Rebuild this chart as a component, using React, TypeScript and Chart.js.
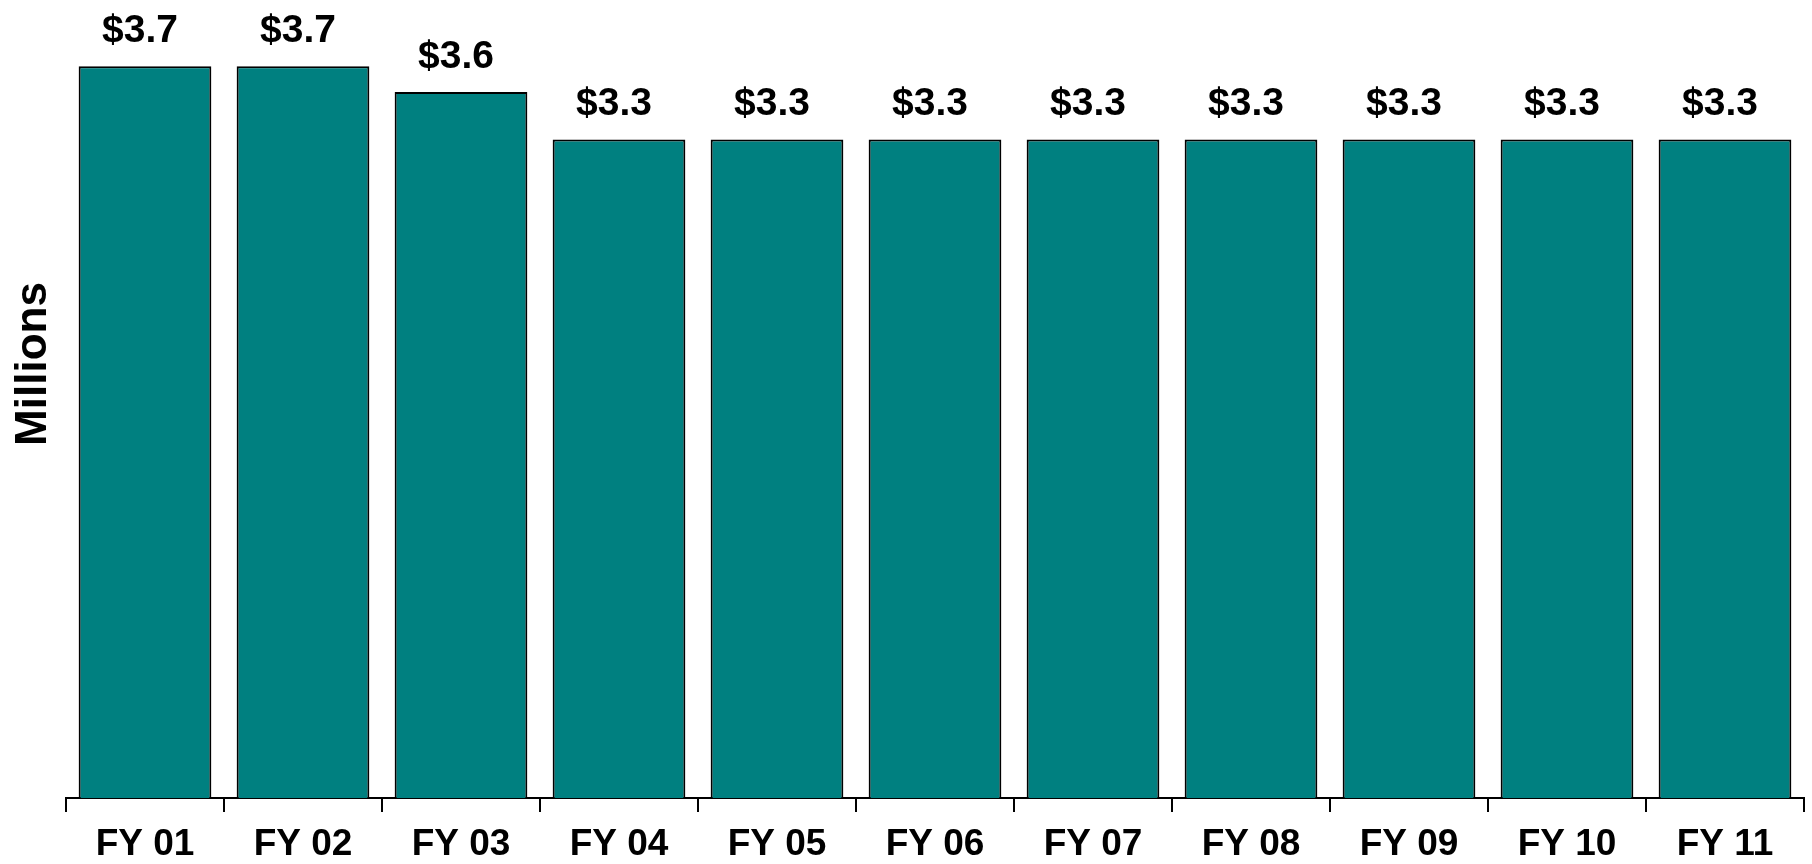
import React, { useEffect, useRef } from "react";
import { Chart, registerables } from "chart.js";

Chart.register(...registerables);

const categories = ["FY 01", "FY 02", "FY 03", "FY 04", "FY 05", "FY 06", "FY 07", "FY 08", "FY 09", "FY 10", "FY 11"];
const fundingMillions = [3.7, 3.7, 3.57, 3.33, 3.33, 3.33, 3.33, 3.33, 3.33, 3.33, 3.33];
const yAxisTitle = "Millions";

const FONT = "Arial, 'Liberation Sans', Helvetica, sans-serif";

const valueLabelPlugin = {
  id: "valueLabels",
  afterDatasetsDraw(chart: any) {
    const ctx = chart.ctx;
    const meta = chart.getDatasetMeta(0);
    ctx.save();
    ctx.fillStyle = "#000";
    ctx.font = `bold 39px ${FONT}`;
    ctx.textAlign = "center";
    ctx.textBaseline = "alphabetic";
    meta.data.forEach((bar: any, i: number) => {
      const v = chart.data.datasets[0].data[i] as number;
      ctx.fillText("$" + v.toFixed(1), bar.x - 5, bar.y - 24);
    });
    ctx.restore();
  },
};

const axisTitlePlugin = {
  id: "axisTitle",
  afterDraw(chart: any) {
    const ctx = chart.ctx;
    ctx.save();
    ctx.translate(34, 364);
    ctx.rotate(-Math.PI / 2);
    ctx.fillStyle = "#000";
    ctx.font = `bold 44px ${FONT}`;
    ctx.textAlign = "center";
    ctx.textBaseline = "middle";
    ctx.fillText(yAxisTitle, 0, 0);
    ctx.restore();
  },
};

export default function App() {
  const ref = useRef<HTMLCanvasElement | null>(null);
  useEffect(() => {
    if (!ref.current) return;
    const chart = new Chart(ref.current, {
      type: "bar",
      data: {
        labels: categories,
        datasets: [
          {
            data: fundingMillions,
            backgroundColor: "#008080",
            borderColor: "#000000",
            borderWidth: 2,
            categoryPercentage: 1,
            barPercentage: 0.84,
          },
        ],
      },
      options: {
        animation: false,
        responsive: false,
        layout: { padding: { left: 66, right: 8, top: 7, bottom: 0 } },
        plugins: { legend: { display: false }, tooltip: { enabled: false } },
        scales: {
          x: {
            afterFit: (scale: any) => {
              scale.height = 66;
            },
            grid: {
              offset: true,
              drawOnChartArea: false,
              drawTicks: true,
              tickLength: 14,
              color: "#000",
              lineWidth: 2,
            },
            border: { display: true, color: "#000", width: 2 },
            ticks: {
              color: "#000",
              padding: 11,
              font: { family: FONT, size: 37, weight: "bold" },
            },
          },
          y: {
            display: false,
            min: 0,
            max: 4,
          },
        },
      },
      plugins: [valueLabelPlugin, axisTitlePlugin],
    });
    return () => chart.destroy();
  }, []);
  return (
    <div style={{ position: "fixed", left: 0, top: 0, width: 1812, height: 864, background: "#fff" }}>
      <canvas ref={ref} width={1812} height={864} style={{ display: "block" }} />
    </div>
  );
}
